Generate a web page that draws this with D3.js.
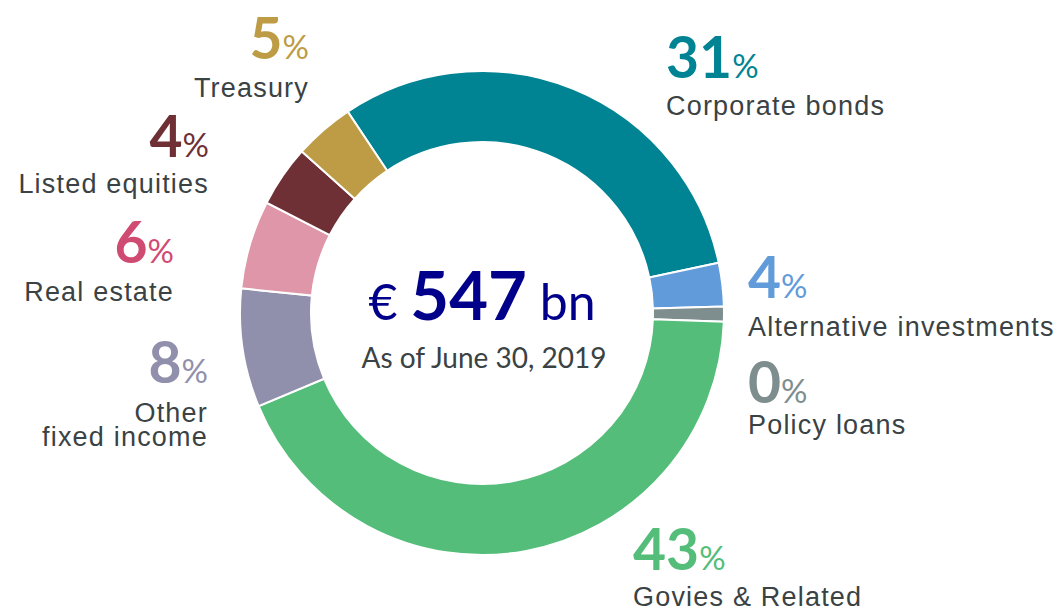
<!DOCTYPE html>
<html>
<head>
<meta charset="utf-8">
<script src="https://cdn.jsdelivr.net/npm/d3@7"></script>
<style>
  body { margin: 0; background: #fff; }
  .num { font-family: Lato, sans-serif; font-weight: 700; }
  .pct { font-family: Lato, sans-serif; font-weight: 400; }
  .lbl { font-family: "Liberation Sans", Arial, sans-serif; fill: #3a4244; letter-spacing: 1.2px; }
</style>
</head>
<body>
<div id="chart-area"></div>
<script>
// data (share of the ring, in %)
var categories = ["Corporate bonds", "Alternative investments", "Policy loans", "Govies & Related",
                  "Other fixed income", "Real estate", "Listed equities", "Treasury"]
var shares = [31.0, 2.9, 1.0, 43.1, 7.9, 5.9, 4.1, 4.0]
var pctLabels = ["31", "4", "0", "43", "8", "6", "4", "5"]
var colors = ["#008393", "#629bd9", "#7e8e8e", "#54bd7a", "#9190ac", "#e096a9", "#6e2f35", "#bd9c45"]
var labelColors = ["#008393", "#629bd9", "#7e8e8e", "#54bd7a", "#9190ac", "#d04b72", "#6e2f35", "#bd9c45"]
var total = "547"
var asOf = "As of June 30, 2019"

// hand placed label layout (not data)
var layout = [
  {x: 666, y: 78,  ly: [115], anchor: "start"},
  {x: 748, y: 298, ly: [336], anchor: "start"},
  {x: 748, y: 403, ly: [434], anchor: "start"},
  {x: 633, y: 570, ly: [606], anchor: "start"},
  {x: 208, y: 383, ly: [422, 446], anchor: "end", lines: ["Other", "fixed income"]},
  {x: 174, y: 263, ly: [301], anchor: "end"},
  {x: 209, y: 157, ly: [193], anchor: "end"},
  {x: 309, y: 59,  ly: [97], anchor: "end"}
]

var width = 1061, height = 610
var cx = 482, cy = 313
var outerR = 242, innerR = 171

var svg = d3.select("#chart-area").append("svg")
    .attr("width", width)
    .attr("height", height)

var g = svg.append("g")
  .attr("transform", "translate(" + cx + "," + cy + ")")

var start = -33.7 * Math.PI / 180
var pie = d3.pie()
  .sort(null)
  .value(function(d) { return d; })
  .startAngle(start)
  .endAngle(start + 2 * Math.PI)

var arc = d3.arc()
  .innerRadius(innerR)
  .outerRadius(outerR)

g.selectAll("path.slice")
  .data(pie(shares))
  .enter().append("path")
    .attr("class", "slice")
    .attr("d", arc)
    .attr("fill", function(d, i) { return colors[i]; })
    .attr("stroke", "#fff")
    .attr("stroke-width", 2)

// center text
var center = g.append("text")
  .attr("text-anchor", "middle")
  .attr("y", 7)
  .attr("fill", "#00008b")
center.append("tspan").attr("class", "pct").attr("font-size", 50).text("€ ")
center.append("tspan").attr("class", "num").attr("font-size", 67).text(total)
center.append("tspan").attr("class", "pct").attr("font-size", 50).text(" bn")

g.append("text")
  .attr("text-anchor", "middle")
  .attr("x", 2)
  .attr("y", 55)
  .attr("font-family", "Lato, sans-serif")
  .attr("font-size", 28)
  .attr("fill", "#3a4244")
  .text(asOf)

// outer labels
categories.forEach(function(name, i) {
  var p = layout[i]
  var t = svg.append("text")
    .attr("x", p.x)
    .attr("y", p.y)
    .attr("text-anchor", p.anchor)
    .attr("fill", labelColors[i])
  t.append("tspan").attr("class", "num").attr("font-size", 57).text(pctLabels[i])
  t.append("tspan").attr("class", "pct").attr("font-size", 33).text("%")

  var lines = p.lines || [name]
  lines.forEach(function(line, j) {
    svg.append("text")
      .attr("class", "lbl")
      .attr("x", p.x)
      .attr("y", p.ly[j])
      .attr("text-anchor", p.anchor)
      .attr("font-size", 27)
      .text(line)
  })
})
</script>
</body>
</html>
